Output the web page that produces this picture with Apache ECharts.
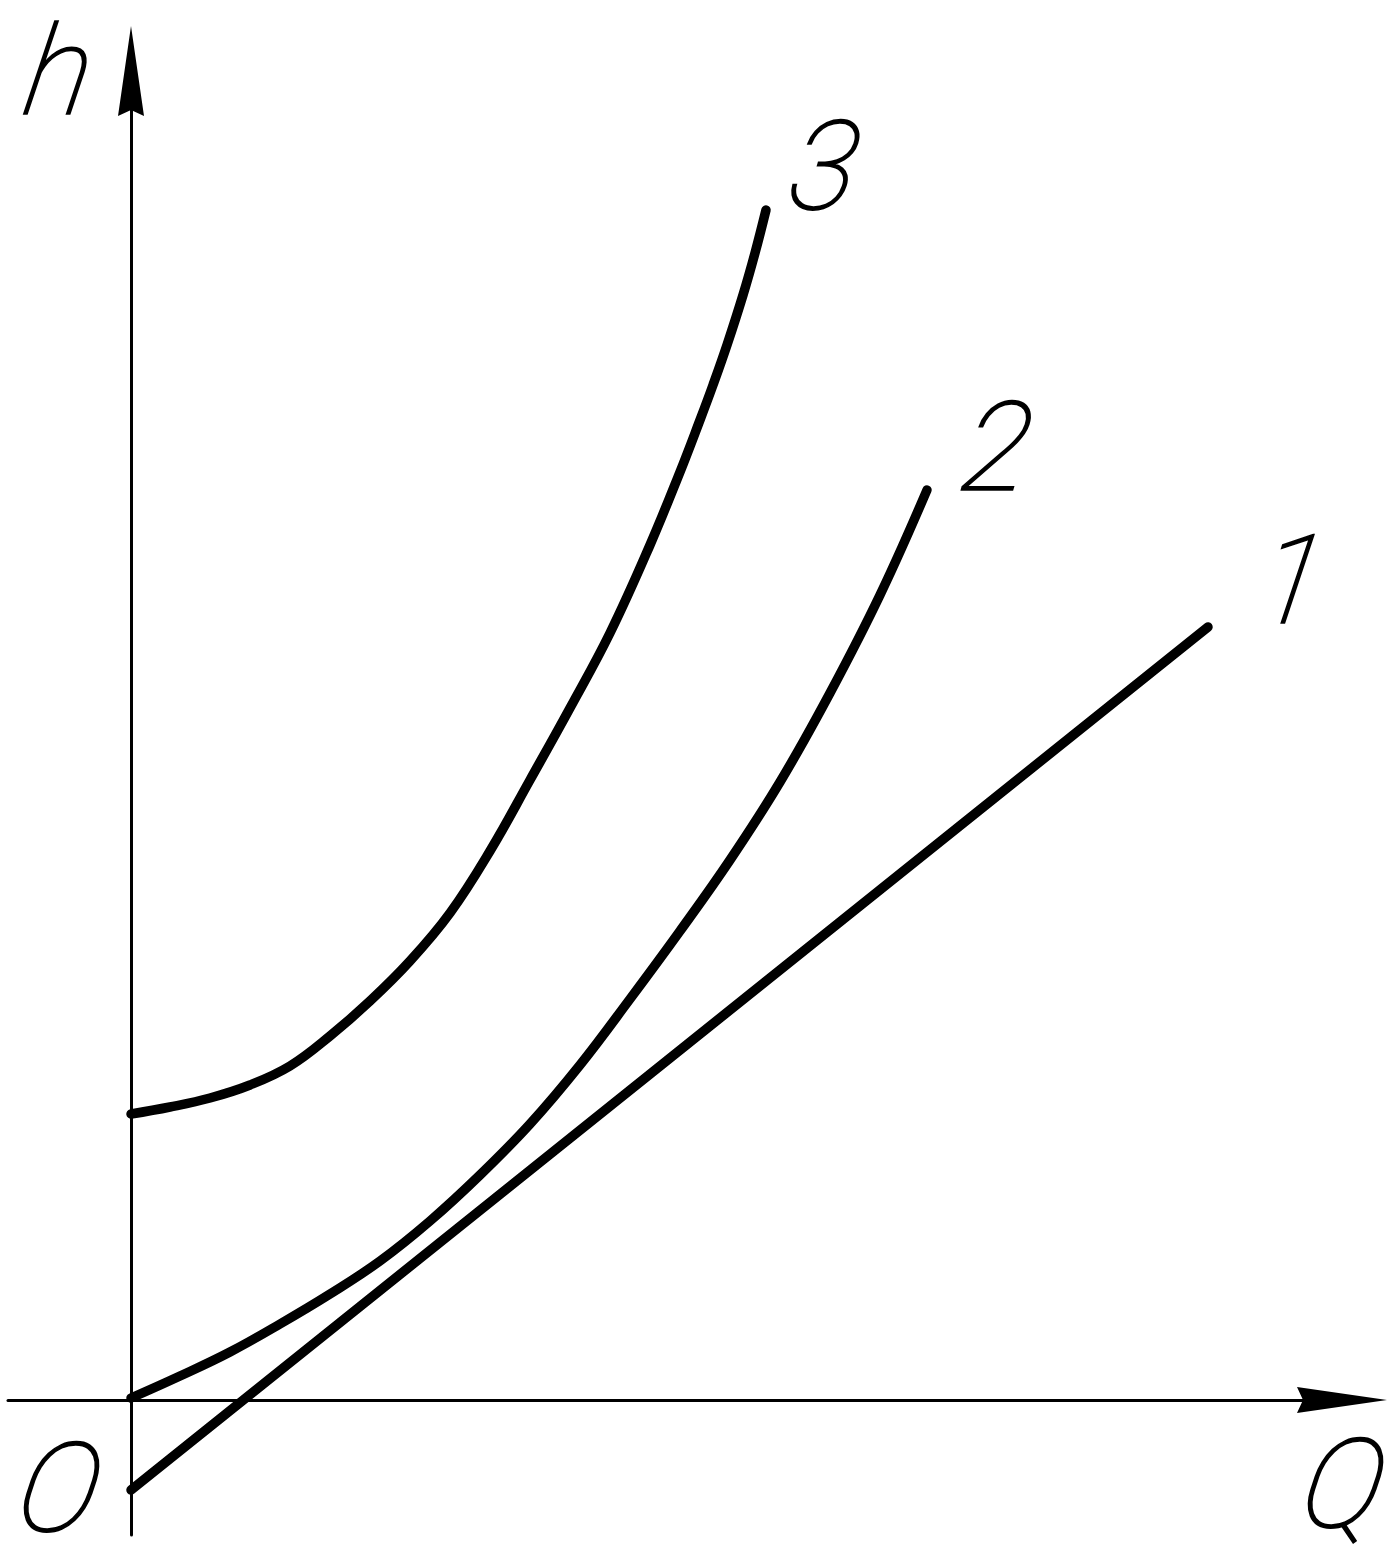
<!DOCTYPE html>
<html>
<head>
<meta charset="utf-8">
<script src="https://cdn.jsdelivr.net/npm/echarts@6/dist/echarts.min.js"></script>
<style>
html,body{margin:0;padding:0;background:#fff;}
#chart{width:1395px;height:1561px;}
</style>
</head>
<body>
<div id="chart"></div>
<script>
// Axis extents (schematic units, origin at O)
const qRange = [-1.23, 12.11];
const hRange = [-1.35, 13.29];

// Curve 1: straight line
const curve1Q = [0, 10.77];
const curve1H = [-0.90, 7.73];

// Curve 2
const curve2Q = [0, 0.49, 0.99, 1.49, 1.99, 2.49, 2.99, 3.49, 3.99, 4.49, 4.99, 5.49, 5.99, 6.49, 6.99, 7.49, 7.96];
const curve2H = [0.02, 0.24, 0.48, 0.76, 1.06, 1.39, 1.79, 2.25, 2.76, 3.35, 4.01, 4.69, 5.40, 6.18, 7.07, 8.05, 9.10];

// Curve 3
const curve3Q = [0, 0.39, 0.79, 1.19, 1.59, 1.99, 2.39, 2.79, 3.19, 3.59, 3.99, 4.39, 4.79, 5.19, 5.49, 5.69, 5.82, 5.96, 6.12, 6.24, 6.35];
const curve3H = [2.86, 2.93, 3.02, 3.15, 3.34, 3.64, 3.99, 4.39, 4.87, 5.49, 6.20, 6.92, 7.67, 8.55, 9.28, 9.80, 10.15, 10.55, 11.05, 11.47, 11.90];

const curveNames = ['1', '2', '3'];
const axisNames = { x: 'Q', y: 'h', origin: 'O' };

function zip(a, b) { return a.map((v, i) => [v, b[i]]); }

const FONT = 'Roboto, "DejaVu Sans", sans-serif';
const FS = 124;
const arrowPath = 'path://M13,0 L26,90 L13,84 L0,90 Z';

const chart = echarts.init(document.getElementById('chart'), null, { renderer: 'canvas' });

function lineSeries(name, q, h) {
  return {
    type: 'line', name: name, data: zip(q, h), smooth: 0.4,
    showSymbol: false, silent: true, animation: false,
    lineStyle: { color: '#000', width: 9.5, cap: 'round', join: 'round' }
  };
}

const option = {
  backgroundColor: '#fff',
  animation: false,
  grid: { left: 8, right: 53, top: 71, bottom: 26, containLabel: false },
  xAxis: {
    type: 'value', min: qRange[0], max: qRange[1],
    axisLine: { show: true, onZero: true, symbol: ['none', arrowPath], symbolSize: [26, 90], lineStyle: { color: '#000', width: 3 } },
    axisTick: { show: false }, axisLabel: { show: false }, splitLine: { show: false }
  },
  yAxis: {
    type: 'value', min: hRange[0], max: hRange[1],
    axisLine: { show: true, onZero: true, symbol: ['none', arrowPath], symbolSize: [26, 90], lineStyle: { color: '#000', width: 3 } },
    axisTick: { show: false }, axisLabel: { show: false }, splitLine: { show: false }
  },
  series: [
    lineSeries(curveNames[0], curve1Q, curve1H),
    lineSeries(curveNames[1], curve2Q, curve2H),
    lineSeries(curveNames[2], curve3Q, curve3H)
  ]
};
chart.setOption(option);

function txt(s, x, y) {
  return { type: 'text', x: x, y: y, skewX: -0.16, silent: true,
    style: { text: s, fill: '#000', stroke: '#000', lineWidth: 1.6, font: 'italic 100 ' + FS + 'px ' + FONT, textAlign: 'center', textVerticalAlign: 'middle' } };
}

const ends = [
  [curve1Q[curve1Q.length - 1], curve1H[curve1H.length - 1], 82, -35],
  [curve2Q[curve2Q.length - 1], curve2H[curve2H.length - 1], 69, -31],
  [curve3Q[curve3Q.length - 1], curve3H[curve3H.length - 1], 57, -32]
];
const origin = chart.convertToPixel({ gridIndex: 0 }, [0, 0]);
const graphics = ends.map((e, i) => {
  const p = chart.convertToPixel({ gridIndex: 0 }, [e[0], e[1]]);
  return txt(curveNames[i], p[0] + e[2], p[1] + e[3]);
});
graphics.push(txt(axisNames.y, origin[0] - 73, 83));
graphics.push(txt(axisNames.origin, origin[0] - 73, origin[1] + 100));
graphics.push(txt(axisNames.x, 1342, origin[1] + 96));
chart.setOption({ graphic: { elements: graphics } });
</script>
</body>
</html>
